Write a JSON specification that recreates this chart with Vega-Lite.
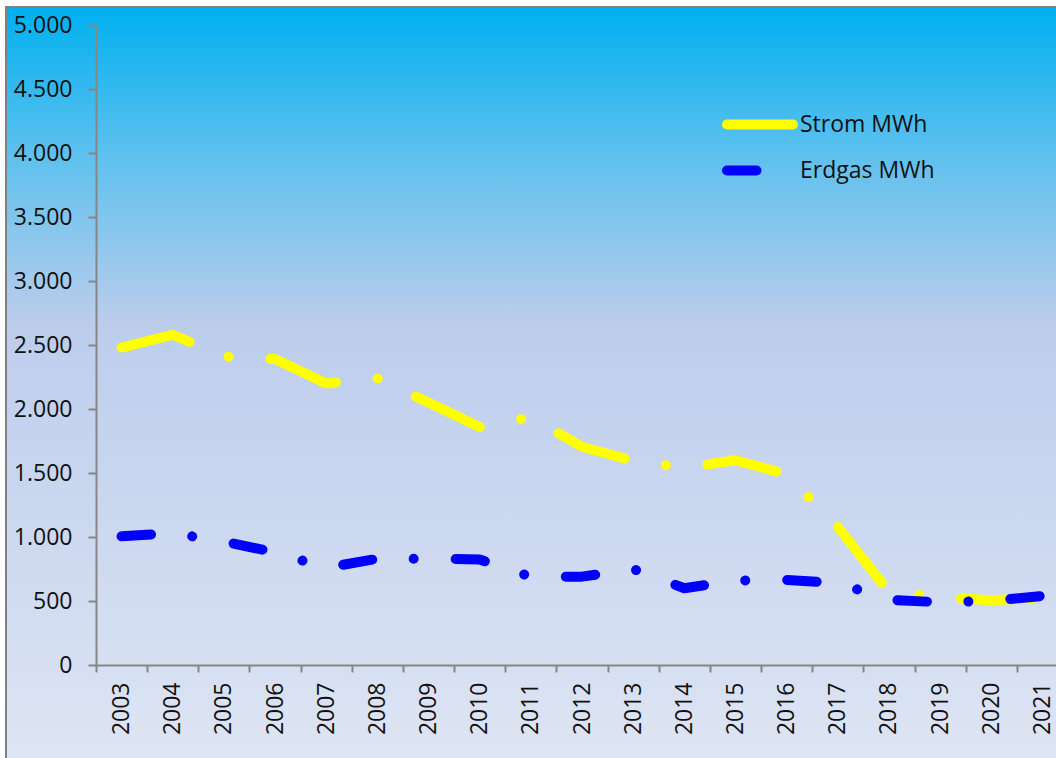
{
  "$schema": "https://vega.github.io/schema/vega-lite/v6.json",
  "width": 1052,
  "height": 753,
  "autosize": {"type": "none"},
  "padding": {"left": 6, "top": 7, "right": 0, "bottom": 0},
  "background": "#ffffff",
  "config": {
    "font": "Open Sans",
    "view": {
      "fill": {
        "gradient": "linear",
        "x1": 0, "y1": 0, "x2": 0, "y2": 1,
        "stops": [
          {"offset": 0, "color": "#00b0f0"},
          {"offset": 0.2, "color": "#5fc1ee"},
          {"offset": 0.42, "color": "#bccdec"},
          {"offset": 1, "color": "#dee5f4"}
        ]
      },
      "stroke": "#808080",
      "strokeWidth": 2
    }
  },
  "data": {
    "values": [
      {"year": 2003, "series": "Strom MWh", "value": 2480},
      {"year": 2004, "series": "Strom MWh", "value": 2580},
      {"year": 2005, "series": "Strom MWh", "value": 2410},
      {"year": 2006, "series": "Strom MWh", "value": 2390},
      {"year": 2007, "series": "Strom MWh", "value": 2200},
      {"year": 2008, "series": "Strom MWh", "value": 2240},
      {"year": 2009, "series": "Strom MWh", "value": 2050},
      {"year": 2010, "series": "Strom MWh", "value": 1860},
      {"year": 2011, "series": "Strom MWh", "value": 1935},
      {"year": 2012, "series": "Strom MWh", "value": 1705},
      {"year": 2013, "series": "Strom MWh", "value": 1595},
      {"year": 2014, "series": "Strom MWh", "value": 1540},
      {"year": 2015, "series": "Strom MWh", "value": 1600},
      {"year": 2016, "series": "Strom MWh", "value": 1490},
      {"year": 2017, "series": "Strom MWh", "value": 1080},
      {"year": 2018, "series": "Strom MWh", "value": 570},
      {"year": 2019, "series": "Strom MWh", "value": 530},
      {"year": 2020, "series": "Strom MWh", "value": 505},
      {"year": 2021, "series": "Strom MWh", "value": 525},
      {"year": 2003, "series": "Erdgas MWh", "value": 1005},
      {"year": 2004, "series": "Erdgas MWh", "value": 1030},
      {"year": 2005, "series": "Erdgas MWh", "value": 965},
      {"year": 2006, "series": "Erdgas MWh", "value": 880},
      {"year": 2007, "series": "Erdgas MWh", "value": 760},
      {"year": 2008, "series": "Erdgas MWh", "value": 830},
      {"year": 2009, "series": "Erdgas MWh", "value": 830},
      {"year": 2010, "series": "Erdgas MWh", "value": 825},
      {"year": 2011, "series": "Erdgas MWh", "value": 690},
      {"year": 2012, "series": "Erdgas MWh", "value": 690},
      {"year": 2013, "series": "Erdgas MWh", "value": 750},
      {"year": 2014, "series": "Erdgas MWh", "value": 600},
      {"year": 2015, "series": "Erdgas MWh", "value": 660},
      {"year": 2016, "series": "Erdgas MWh", "value": 665},
      {"year": 2017, "series": "Erdgas MWh", "value": 640},
      {"year": 2018, "series": "Erdgas MWh", "value": 510},
      {"year": 2019, "series": "Erdgas MWh", "value": 490},
      {"year": 2020, "series": "Erdgas MWh", "value": 500},
      {"year": 2021, "series": "Erdgas MWh", "value": 540}
    ]
  },
  "mark": {"type": "line", "strokeWidth": 10, "strokeCap": "round", "strokeJoin": "round"},
  "encoding": {
    "x": {
      "field": "year",
      "type": "quantitative",
      "scale": {"domain": [2002.5, 2021.5], "range": [90, 1062], "nice": false, "zero": false},
      "axis": {
        "orient": "bottom",
        "offset": -95,
        "title": null,
        "grid": false,
        "values": [2002.5, 2003.5, 2004.5, 2005.5, 2006.5, 2007.5, 2008.5, 2009.5, 2010.5, 2011.5, 2012.5, 2013.5, 2014.5, 2015.5, 2016.5, 2017.5, 2018.5, 2019.5, 2020.5],
        "labelExpr": "'' + (datum.value + 0.5)",
        "labelOffset": 25.6,
        "labelAngle": 270,
        "labelAlign": "right",
        "labelBaseline": "middle",
        "labelPadding": 10,
        "labelFontSize": 23,
        "labelColor": "#111111",
        "labelOverlap": false,
        "labelFlush": false,
        "labelBound": false,
        "domainColor": "#868686",
        "domainWidth": 2,
        "tickColor": "#868686",
        "tickWidth": 2,
        "tickSize": 7
      }
    },
    "y": {
      "field": "value",
      "type": "quantitative",
      "scale": {"domain": [0, 5000], "range": [658, 18], "nice": false, "zero": true},
      "axis": {
        "orient": "left",
        "offset": -90,
        "title": null,
        "grid": false,
        "values": [0, 500, 1000, 1500, 2000, 2500, 3000, 3500, 4000, 4500, 5000],
        "labelExpr": "replace(format(datum.value, ','), ',', '.')",
        "labelFontSize": 23,
        "labelColor": "#111111",
        "labelPadding": 16,
        "labelOverlap": false,
        "labelFlush": false,
        "labelBound": false,
        "domainColor": "#868686",
        "domainWidth": 2,
        "tickColor": "#868686",
        "tickWidth": 2,
        "tickSize": 8
      }
    },
    "color": {
      "field": "series",
      "type": "nominal",
      "scale": {"domain": ["Strom MWh", "Erdgas MWh"], "range": ["#ffff00", "#0000ff"]},
      "legend": {
        "orient": "none",
        "legendX": 732.5,
        "legendY": 96,
        "title": null,
        "symbolType": "M-2,0H2",
        "symbolSize": 1089,
        "symbolStrokeWidth": 10,
        "labelFontSize": 23,
        "labelColor": "#111111",
        "labelOffset": 18.5,
        "rowPadding": 4,
        "encode": {"symbols": {"update": {"strokeCap": {"value": "round"}}}}
      }
    },
    "strokeDash": {
      "field": "series",
      "type": "nominal",
      "scale": {"domain": ["Strom MWh", "Erdgas MWh"], "range": [[71, 42, 0.01, 42], [29.5, 41.5, 0.01, 42]]},
      "legend": {
        "orient": "none",
        "legendX": 732.5,
        "legendY": 96,
        "title": null,
        "symbolType": "M-2,0H2",
        "symbolSize": 1089,
        "symbolStrokeWidth": 10,
        "labelFontSize": 23,
        "labelColor": "#111111",
        "labelOffset": 18.5,
        "rowPadding": 4,
        "encode": {"symbols": {"update": {"strokeCap": {"value": "round"}}}}
      }
    }
  }
}
